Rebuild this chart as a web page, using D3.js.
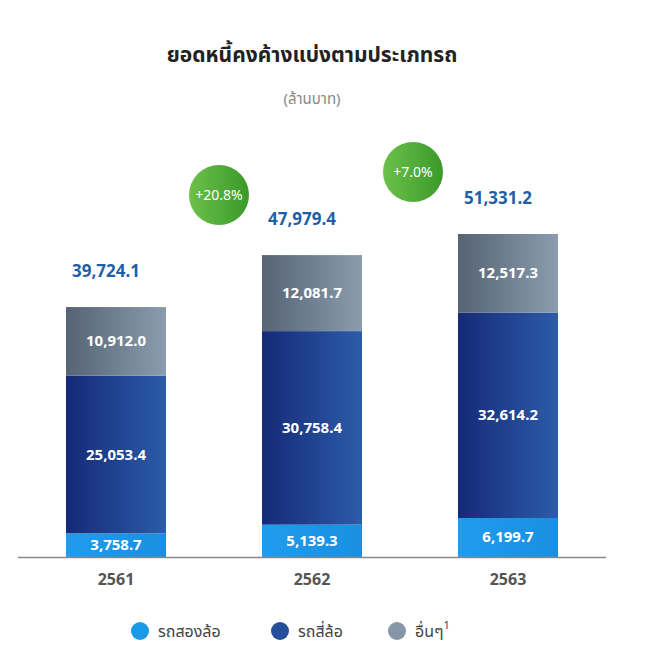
<!DOCTYPE html><html><head><meta charset="utf-8"><script src="https://cdn.jsdelivr.net/npm/d3@7"></script>
<style>body{margin:0;background:#fff;font-family:"Noto Sans","Noto Sans Thai",sans-serif}</style></head><body><svg id="c" width="651" height="660"></svg>
<script>
const years=["2561","2562","2563"];
const two=[3758.7,5139.3,6199.7];
const four=[25053.4,30758.4,32614.2];
const other=[10912.0,12081.7,12517.3];
const totals=[39724.1,47979.4,51331.2];
const growth=["+20.8%","+7.0%"];
const seriesNames=["รถสองล้อ","รถสี่ล้อ","อื่นๆ"];
const svg=d3.select("#c");
const defs=svg.append("defs");
function grad(id,a,b){const g=defs.append("linearGradient").attr("id",id);g.append("stop").attr("offset",0).attr("stop-color",a);g.append("stop").attr("offset",1).attr("stop-color",b);}
grad("gb","#1f9cee","#1a8fe0");grad("gd","#152a78","#2c5ca8");grad("gg","#566474","#8a9cae");
grad("gc","#6cc04a","#3a9a2a");
const x=d3.scaleBand().domain(years).range([18,606]).paddingInner(0.96).paddingOuter(0.25);
const xs=d3.scalePoint().domain(years).range([116,508]);
const y=d3.scaleLinear().domain([0,51331.2]).range([557,234]);
const fills=["url(#gb)","url(#gd)","url(#gg)"];
const data=[two,four,other];
years.forEach((yr,i)=>{let base=0;const cx=xs(yr);
 data.forEach((s,k)=>{const v=s[i];
  svg.append("rect").attr("x",cx-50).attr("width",100).attr("y",y(base+v)).attr("height",y(base)-y(base+v)).attr("fill",fills[k]);
  svg.append("text").attr("x",cx).attr("y",(y(base)+y(base+v))/2+5).attr("text-anchor","middle").attr("fill","#fff").attr("font-weight","bold").attr("font-size",15).text(d3.format(",.1f")(v));
  base+=v;});
 svg.append("text").attr("x",cx-10).attr("y",y(totals[i])-30).attr("text-anchor","middle").attr("fill","#1f5fa8").attr("font-weight","bold").attr("font-size",17).text(d3.format(",.1f")(totals[i]));
 svg.append("text").attr("x",cx).attr("y",585).attr("text-anchor","middle").attr("fill","#555").attr("font-weight","bold").attr("font-size",16).text(yr);
});
svg.append("line").attr("x1",18).attr("x2",606).attr("y1",557.5).attr("y2",557.5).attr("stroke","#888").attr("stroke-width",1.5);
[[219,195],[413,172]].forEach((p,i)=>{svg.append("circle").attr("cx",p[0]).attr("cy",p[1]).attr("r",30).attr("fill","url(#gc)");
 svg.append("text").attr("x",p[0]).attr("y",p[1]+5).attr("text-anchor","middle").attr("fill","#fff").attr("font-size",14).text(growth[i]);});
svg.append("text").attr("x",312).attr("y",62).attr("text-anchor","middle").attr("font-weight","bold").attr("font-size",21).attr("fill","#222").text("ยอดหนี้คงค้างแบ่งตามประเภทรถ");
svg.append("text").attr("x",312).attr("y",104).attr("text-anchor","middle").attr("font-size",15).attr("fill","#888").text("(ล้านบาท)");
const lc=["#1a9be8","#254f9a","#8696a8"],lx=[140,280,397];
seriesNames.forEach((n,i)=>{svg.append("circle").attr("cx",lx[i]).attr("cy",631).attr("r",9).attr("fill",lc[i]);
 const t=svg.append("text").attr("x",lx[i]+18).attr("y",637).attr("font-size",16).attr("fill","#444").text(n);
 if(i==2)t.append("tspan").attr("dy",-8).attr("font-size",11).text("1");});
</script></body></html>
